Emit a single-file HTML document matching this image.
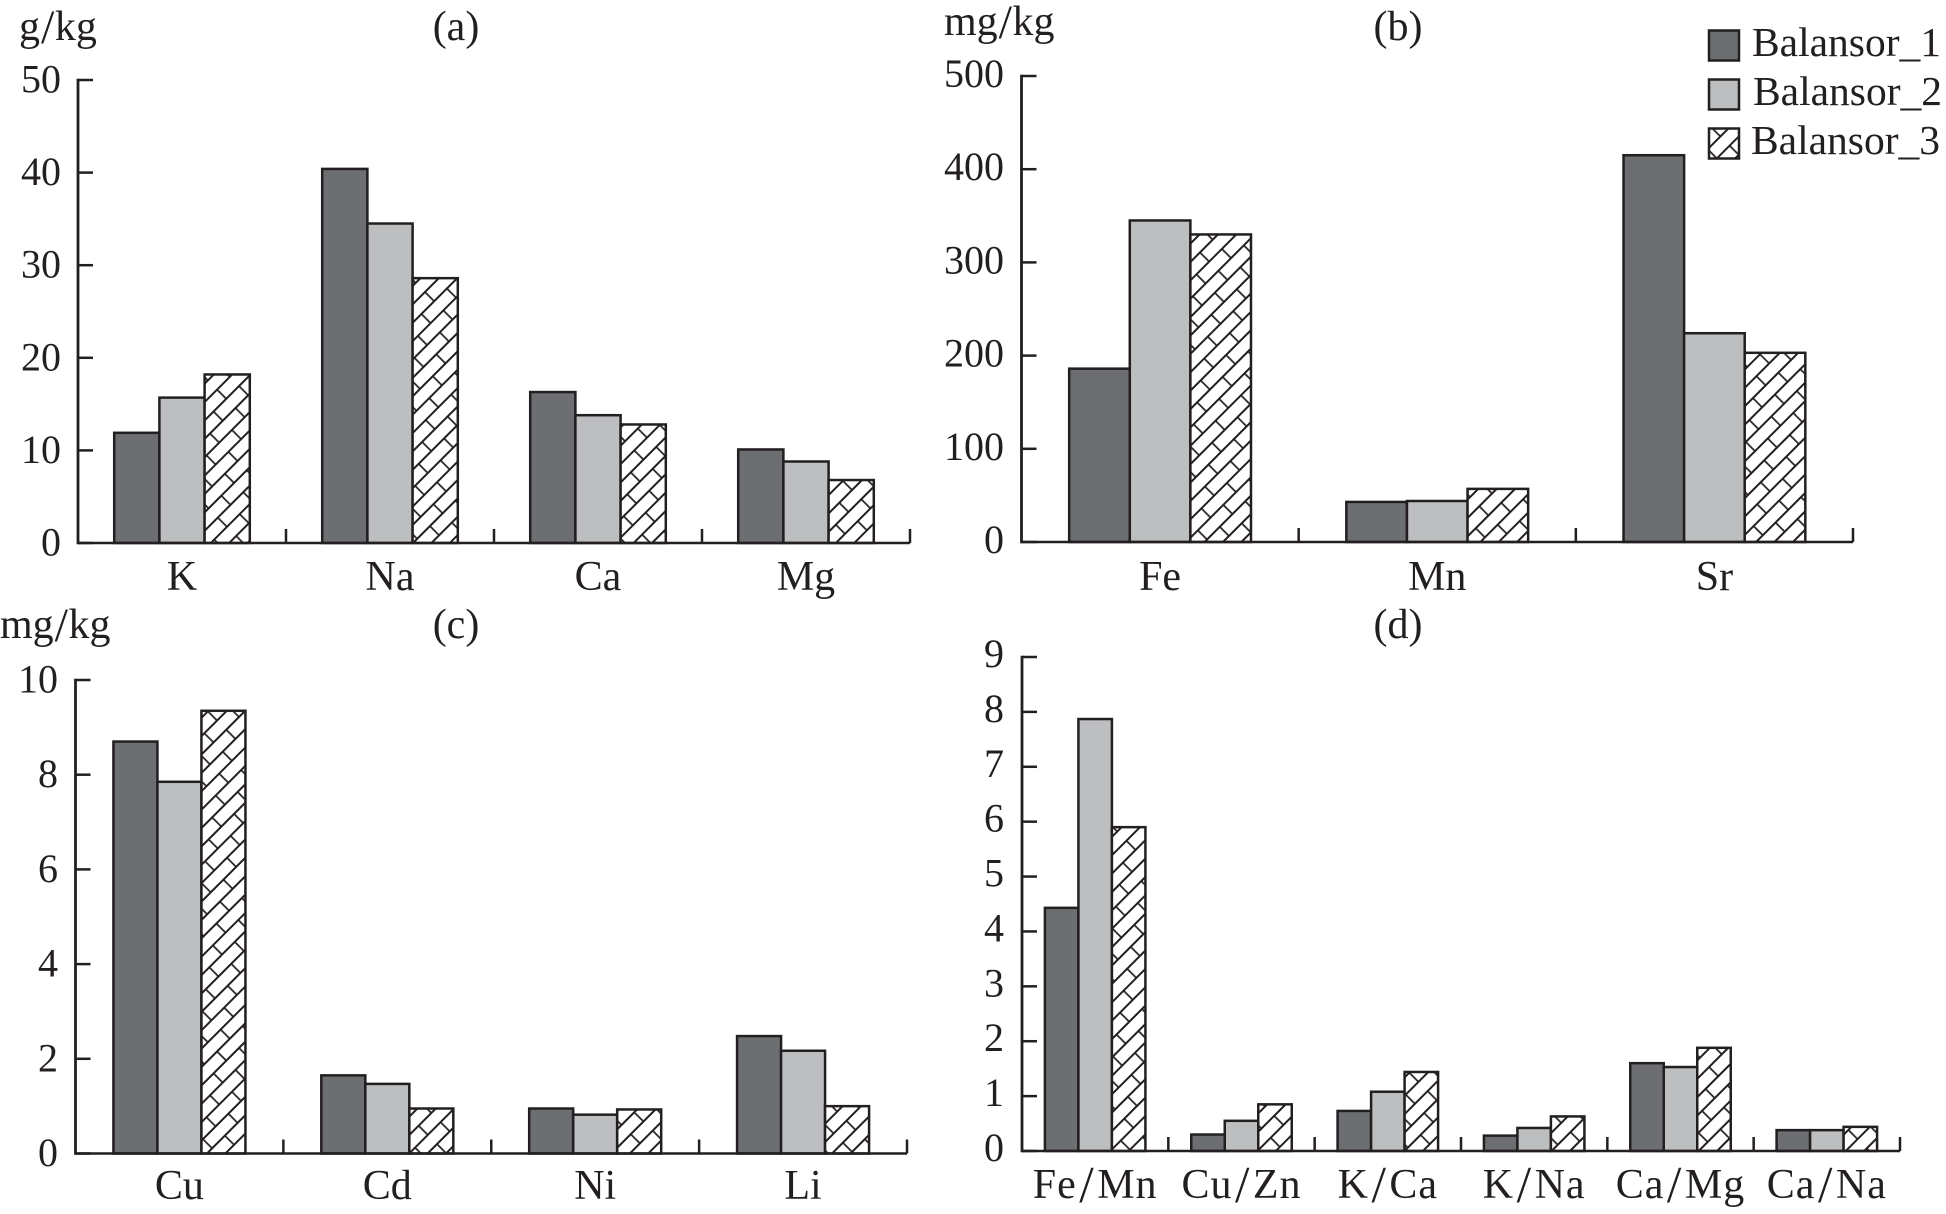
<!DOCTYPE html>
<html>
<head>
<meta charset="utf-8">
<title>Element content in Balansor samples</title>
<style>
html,body{margin:0;padding:0;background:#fff;}
svg{display:block;}
text{font-family:"Liberation Serif",serif;font-size:40px;fill:#231f20;}
.lab{font-size:42px;}
.ratio{letter-spacing:1px;}
.slash{font-size:52px;}
</style>
</head>
<body>
<svg id="chart" xmlns="http://www.w3.org/2000/svg" width="1946" height="1214" viewBox="0 0 1946 1214">
<defs>
<pattern id="brick" patternUnits="userSpaceOnUse" width="36" height="26" patternTransform="rotate(-45 0 0)">
<rect width="36" height="26" fill="#fff"/>
<path d="M0 0H36M0 13H36M0 26H36" stroke="#231f20" stroke-width="2" fill="none"/>
<path d="M4 0V13M22 13V26" stroke="#231f20" stroke-width="1.7" fill="none"/>
</pattern>
</defs>
<g>
<g>
<rect x="1709" y="30.5" width="30" height="30" fill="#6d6e71" stroke="#231f20" stroke-width="2.5"/>
<text x="1752" y="56" style="font-size:41.5px">Balansor_1</text>
</g>
<g>
<rect x="1709" y="79.5" width="30" height="30" fill="#bcbec0" stroke="#231f20" stroke-width="2.5"/>
<text x="1753" y="105" style="font-size:41.5px">Balansor_2</text>
</g>
<g>
<rect x="1709" y="128.5" width="30" height="30" fill="url(#brick)" stroke="#231f20" stroke-width="2.5"/>
<text x="1751" y="154" style="font-size:41.5px">Balansor_3</text>
</g>
</g>
<text class="lab" x="456" y="40" text-anchor="middle">(a)</text>
<text class="lab" x="1398" y="40" text-anchor="middle">(b)</text>
<text class="lab" x="456" y="638" text-anchor="middle">(c)</text>
<text class="lab" x="1398" y="638" text-anchor="middle">(d)</text>
<text class="lab" x="19" y="40">g<tspan dx="1" dy="3" style="font-size:48px">/</tspan><tspan dx="0.5" dy="-3">kg</tspan></text>
<text class="lab" x="944" y="35">mg<tspan dx="1" dy="3" style="font-size:48px">/</tspan><tspan dx="0.5" dy="-3">kg</tspan></text>
<text class="lab" x="0" y="638">mg<tspan dx="1" dy="3" style="font-size:48px">/</tspan><tspan dx="0.5" dy="-3">kg</tspan></text>
</svg>
<script>
const catsA = ['K', 'Na', 'Ca', 'Mg'];
const ticksA = [0, 10, 20, 30, 40, 50];
const a1 = [11.9, 40.4, 16.3, 10.1];
const a2 = [15.7, 34.5, 13.8, 8.8];
const a3 = [18.2, 28.6, 12.8, 6.8];

const catsB = ['Fe', 'Mn', 'Sr'];
const ticksB = [0, 100, 200, 300, 400, 500];
const b1 = [186, 43, 415];
const b2 = [345, 44, 224];
const b3 = [330, 57, 203];

const catsC = ['Cu', 'Cd', 'Ni', 'Li'];
const ticksC = [0, 2, 4, 6, 8, 10];
const c1 = [8.7, 1.65, 0.95, 2.48];
const c2 = [7.85, 1.47, 0.82, 2.17];
const c3 = [9.35, 0.95, 0.93, 1.0];

const catsD = ['Fe/Mn', 'Cu/Zn', 'K/Ca', 'K/Na', 'Ca/Mg', 'Ca/Na'];
const ticksD = [0, 1, 2, 3, 4, 5, 6, 7, 8, 9];
const d1 = [4.43, 0.3, 0.73, 0.28, 1.6, 0.38];
const d2 = [7.87, 0.55, 1.08, 0.42, 1.53, 0.38];
const d3 = [5.9, 0.85, 1.44, 0.63, 1.88, 0.44];

const NS = 'http://www.w3.org/2000/svg';
const INK = '#231f20';
const svg = document.getElementById('chart');
const fills = ['#6d6e71', '#bcbec0', 'url(#brick)'];

function node(parent, tag, props) {
  const el = document.createElementNS(NS, tag);
  for (const k in props) el.setAttribute(k, props[k]);
  parent.appendChild(el);
  return el;
}

function fillLabel(lab, cat) {
  const parts = cat.split('/');
  if (parts.length === 1) {
    lab.textContent = cat;
    return;
  }
  lab.setAttribute('class', 'lab ratio');
  node(lab, 'tspan', {}).textContent = parts[0];
  node(lab, 'tspan', { class: 'slash', dx: 2.5, dy: 4 }).textContent = '/';
  node(lab, 'tspan', { dx: 2.5, dy: -4 }).textContent = parts[1];
}

function drawPanel(id, layout, cats, ticks, series) {
  const g = node(svg, 'g', {});
  
  
  const maxV = ticks[ticks.length - 1];
  const yPos = v => layout.y0 + (layout.yTop - layout.y0) * v / maxV;
  const groupW = (layout.x1 - layout.x0) / cats.length;
  const xCenter = i => layout.x0 + groupW * (i + 0.5);

  cats.forEach((cat, i) => {
    series.forEach((vals, s) => {
      const left = xCenter(i) - layout.barW * 1.5 + layout.barW * s;
      const bar = node(g, 'rect', {
        x: left, y: yPos(vals[i]), width: layout.barW, height: layout.y0 - yPos(vals[i]),
        fill: fills[s], stroke: INK, 'stroke-width': 2.5
      });
      
      
    });
    const lab = node(g, 'text', { class: 'lab', x: xCenter(i), y: layout.labelY, 'text-anchor': 'middle' });
    fillLabel(lab, cat);
    
    
    const tx = layout.x0 + groupW * (i + 1);
    const xt = node(g, 'line', { x1: tx, x2: tx, y1: layout.y0, y2: layout.y0 - 14, stroke: INK, 'stroke-width': 2.5 });
    
    
  });

  ticks.forEach(t => {
    const yt = node(g, 'line', { x1: layout.x0, x2: layout.x0 + 15, y1: yPos(t), y2: yPos(t), stroke: INK, 'stroke-width': 2.5 });
    
    
    const tl = node(g, 'text', { x: layout.tickRight, y: yPos(t) + layout.tickDy, 'text-anchor': 'end' });
    tl.textContent = String(t);
    
    
  });

  const ya = node(g, 'line', { x1: layout.x0, x2: layout.x0, y1: layout.yTop - 1.25, y2: layout.y0 + 1.25, stroke: INK, 'stroke-width': 2.8 });
  
  
  const xa = node(g, 'line', { x1: layout.x0, x2: layout.x1, y1: layout.y0, y2: layout.y0, stroke: INK, 'stroke-width': 2.5 });
  
  
}

drawPanel('a', { x0: 78, x1: 910, y0: 543, yTop: 80, barW: 45.2, labelY: 590, tickRight: 61, tickDy: 12.5 }, catsA, ticksA, [a1, a2, a3]);
drawPanel('b', { x0: 1021.5, x1: 1853, y0: 542, yTop: 76, barW: 60.6, labelY: 590, tickRight: 1004, tickDy: 11 }, catsB, ticksB, [b1, b2, b3]);
drawPanel('c', { x0: 75.5, x1: 907, y0: 1153.5, yTop: 680, barW: 44, labelY: 1199, tickRight: 58, tickDy: 12.5 }, catsC, ticksC, [c1, c2, c3]);
drawPanel('d', { x0: 1022, x1: 1900, y0: 1151, yTop: 657, barW: 33.5, labelY: 1198, tickRight: 1004, tickDy: 10 }, catsD, ticksD, [d1, d2, d3]);
</script>
</body>
</html>
